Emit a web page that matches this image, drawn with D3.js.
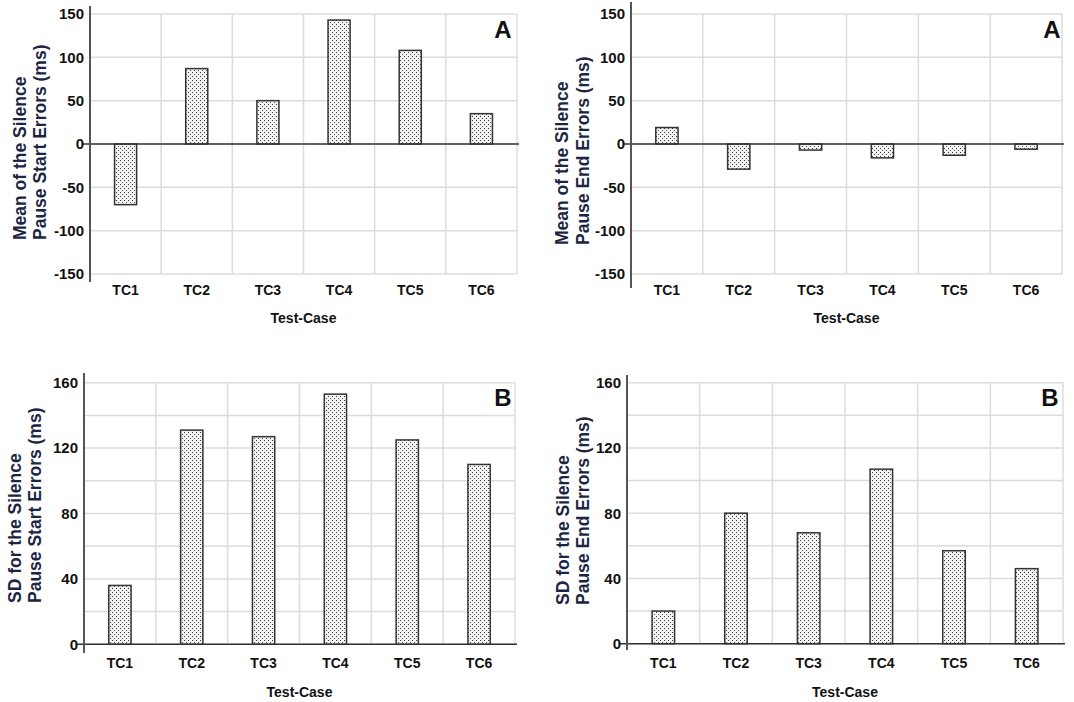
<!DOCTYPE html>
<html><head><meta charset="utf-8">
<script src="https://cdn.jsdelivr.net/npm/d3@7"></script>
<style>
html,body{margin:0;padding:0;background:#fff;}
svg{display:block;}
text{font-family:"Liberation Sans",Arial,sans-serif;font-weight:bold;}
</style></head>
<body>
<svg id="chart" width="1074" height="702"></svg>
<script>
const categories = ["TC1","TC2","TC3","TC4","TC5","TC6"];
const meanStartErrors = [-70, 87, 50, 143, 108, 35];
const meanEndErrors = [19, -29, -7, -16, -13, -6];
const sdStartErrors = [36, 131, 127, 153, 125, 110];
const sdEndErrors = [20, 80, 68, 107, 57, 46];
const meanTicks = [-150, -100, -50, 0, 50, 100, 150];
const sdTicks = [0, 40, 80, 120, 160];
const sdGridTicks = [0, 20, 40, 60, 80, 100, 120, 140, 160];
const xTitle = "Test-Case";

const FONT = "'Liberation Sans', Arial, sans-serif";
const svg = d3.select("#chart");
const defs = svg.append("defs");
const pat = defs.append("pattern").attr("id","dots").attr("patternUnits","userSpaceOnUse")
  .attr("width",4).attr("height",4);
pat.append("rect").attr("width",4).attr("height",4).attr("fill","#f2f2f2");
pat.append("rect").attr("x",0).attr("y",0).attr("width",1).attr("height",1).attr("fill","#333");
pat.append("rect").attr("x",2).attr("y",2).attr("width",1).attr("height",1).attr("fill","#555");

const panels = [
  {values: meanStartErrors, ticks: meanTicks, grid: meanTicks, domain:[-150,150],
   x0:90, x1:517, yTop:14, yBot:274, axTop:6, axBot:282, tickLabY:290, titleY:318,
   titleX:[20,40], titleStartY:240, label:"A", labX:503, labY:30,
   ytitle:["Mean of the Silence","Pause Start Errors (ms)"]},
  {values: meanEndErrors, ticks: meanTicks, grid: meanTicks, domain:[-150,150],
   x0:631, x1:1062, yTop:14, yBot:274, axTop:2, axBot:288, tickLabY:290, titleY:318,
   titleX:[562,583], titleStartY:245, label:"A", labX:1052, labY:30,
   ytitle:["Mean of the Silence","Pause End Errors (ms)"]},
  {values: sdStartErrors, ticks: sdTicks, grid: sdGridTicks, domain:[0,160],
   x0:84, x1:515, yTop:382.7, yBot:644.3, axTop:373, axBot:653, tickLabY:663, titleY:692,
   titleX:[15,35], titleStartY:603, label:"B", labX:503, labY:398,
   ytitle:["SD for the Silence","Pause Start Errors (ms)"]},
  {values: sdEndErrors, ticks: sdTicks, grid: sdGridTicks, domain:[0,160],
   x0:627, x1:1063, yTop:382.7, yBot:643.7, axTop:375, axBot:650, tickLabY:663, titleY:692,
   titleX:[563,583], titleStartY:605, label:"B", labX:1050, labY:398,
   ytitle:["SD for the Silence","Pause End Errors (ms)"]}
];

panels.forEach(p => {
  const g = svg.append("g");
  const x = d3.scaleBand().domain(categories).range([p.x0, p.x1]).paddingInner(0.69).paddingOuter(0.345);
  const y = d3.scaleLinear().domain(p.domain).range([p.yBot, p.yTop]);
  const step = x.step();
  g.selectAll("line.hg").data(p.grid).enter().append("line")
    .attr("x1", p.x0).attr("x2", p.x1).attr("y1", d=>y(d)).attr("y2", d=>y(d))
    .attr("stroke","#dcdcdc").attr("stroke-width",1.5);
  g.selectAll("line.vg").data(d3.range(1, categories.length+1)).enter().append("line")
    .attr("x1", i=>p.x0 + i*step).attr("x2", i=>p.x0 + i*step)
    .attr("y1", y(p.domain[1])).attr("y2", y(p.domain[0]))
    .attr("stroke","#dcdcdc").attr("stroke-width",1.5);
  g.selectAll("rect.bar").data(p.values).enter().append("rect")
    .attr("x", (d,i)=>x(categories[i]))
    .attr("width", x.bandwidth())
    .attr("y", d=>Math.min(y(0), y(d)))
    .attr("height", d=>Math.abs(y(d)-y(0)))
    .attr("fill","url(#dots)").attr("stroke","#333").attr("stroke-width",1.5);
  g.append("line").attr("x1", p.x0-8).attr("x2", p.x1+2).attr("y1", y(0)).attr("y2", y(0))
    .attr("stroke","#333").attr("stroke-width",1.5);
  g.append("line").attr("x1", p.x0).attr("x2", p.x0).attr("y1", p.axTop).attr("y2", p.axBot)
    .attr("stroke","#555").attr("stroke-width",2);
  const ya = d3.axisLeft(y).tickValues(p.ticks).tickSize(0).tickPadding(6).tickFormat(d => String(d));
  const yg = g.append("g").attr("transform",`translate(${p.x0},0)`).call(ya);
  yg.select(".domain").remove();
  yg.selectAll("text").attr("font-size",15).attr("fill","#111")
    .attr("font-family",FONT).attr("font-weight","bold");
  const xa = d3.axisBottom(x).tickSize(0).tickPadding(0);
  const xg = g.append("g").attr("transform",`translate(0,${p.tickLabY})`).call(xa);
  xg.select(".domain").remove();
  xg.selectAll("text").attr("dy","0.35em").attr("font-size",14).attr("fill","#111")
    .attr("font-family",FONT).attr("font-weight","bold");
  g.append("text").attr("x", (p.x0+p.x1)/2).attr("y", p.titleY).attr("dy","0.35em")
    .attr("text-anchor","middle").attr("font-size",14).attr("fill","#111").text(xTitle);
  p.ytitle.forEach((t,i) => {
    g.append("text").attr("transform",`translate(${p.titleX[i]},${p.titleStartY}) rotate(-90)`)
      .attr("dy","0.35em").attr("text-anchor","start").attr("font-size",17.5)
      .attr("fill","#1c2541").text(t);
  });
  g.append("text").attr("x", p.labX).attr("y", p.labY).attr("dy","0.35em")
    .attr("text-anchor","middle").attr("font-size",24).attr("fill","#111").text(p.label);
});
</script>
</body></html>
